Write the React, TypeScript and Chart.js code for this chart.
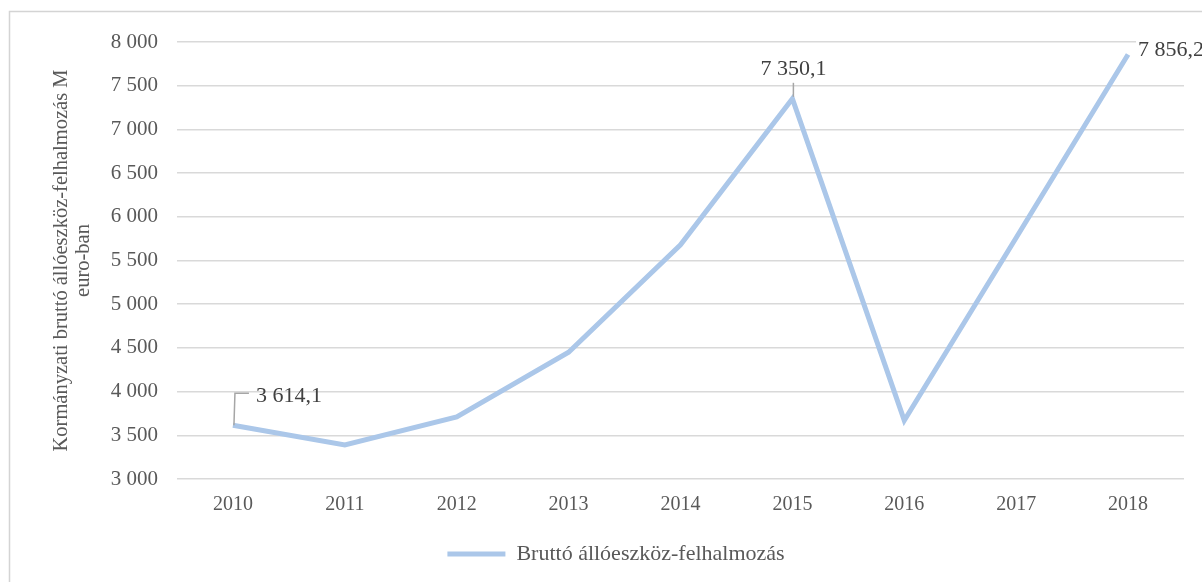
import React, { useEffect, useRef } from "react";
import { Chart, registerables } from "chart.js";

Chart.register(...registerables);

const categories = ["2010", "2011", "2012", "2013", "2014", "2015", "2016", "2017", "2018"];
const seriesName = "Bruttó állóeszköz-felhalmozás";
const values = [3614.1, 3390, 3710, 4450, 5680, 7350.1, 3670, 5760, 7856.2];
const labeledIndices = [0, 5, 8];
const yTitle = ["Kormányzati bruttó állóeszköz-felhalmozás M", "euro-ban"];
const yMin = 3000;
const yMax = 8000;
const yStep = 500;

const FONT = "'Liberation Serif', 'Times New Roman', serif";
const LINE_COLOR = "#abc7e9";

function fmt(v: number, decimals: number): string {
  const s = v.toFixed(decimals);
  const [intPart, dec] = s.split(".");
  const grouped = intPart.replace(/\B(?=(\d{3})+(?!\d))/g, " ");
  return dec ? grouped + "," + dec : grouped;
}

const framePlugin = {
  id: "frame",
  beforeDraw(chart: any) {
    const ctx = chart.ctx;
    ctx.save();
    ctx.fillStyle = "#ffffff";
    ctx.fillRect(0, 0, chart.width, chart.height);
    ctx.strokeStyle = "#d4d4d4";
    ctx.lineWidth = 1.5;
    ctx.strokeRect(9.5, 11.5, 1400, 1000);
    ctx.restore();
  },
};

const dataLabelPlugin = {
  id: "dataLabels",
  afterDatasetsDraw(chart: any) {
    const ctx = chart.ctx;
    const meta = chart.getDatasetMeta(0);
    ctx.save();
    ctx.font = `22px ${FONT}`;
    ctx.fillStyle = "#404040";
    ctx.strokeStyle = "#a6a6a6";
    ctx.lineWidth = 1.5;
    labeledIndices.forEach((i) => {
      const p = meta.data[i];
      if (!p) return;
      const text = fmt(values[i], 1);
      if (i === 0) {
        ctx.beginPath();
        ctx.moveTo(p.x + 1, p.y);
        ctx.lineTo(p.x + 2, p.y - 32);
        ctx.lineTo(p.x + 16, p.y - 32);
        ctx.stroke();
        ctx.textAlign = "left";
        ctx.textBaseline = "middle";
        ctx.fillText(text, p.x + 23, p.y - 29);
      } else if (i === 5) {
        ctx.beginPath();
        ctx.moveTo(p.x + 1, p.y - 2);
        ctx.lineTo(p.x + 1, p.y - 16);
        ctx.stroke();
        ctx.textAlign = "center";
        ctx.textBaseline = "middle";
        ctx.fillText(text, p.x + 1, p.y - 30);
      } else {
        const w = ctx.measureText(text).width;
        ctx.fillStyle = "#ffffff";
        ctx.fillRect(p.x + 8, p.y - 16, w + 6, 24);
        ctx.fillStyle = "#404040";
        ctx.textAlign = "left";
        ctx.textBaseline = "middle";
        ctx.fillText(text, p.x + 10, p.y - 4);
      }
    });
    ctx.restore();
  },
};

export default function App() {
  const canvasRef = useRef<HTMLCanvasElement | null>(null);

  useEffect(() => {
    const canvas = canvasRef.current;
    if (!canvas) return;
    const chart = new Chart(canvas, {
      type: "line",
      data: {
        labels: categories,
        datasets: [
          {
            label: seriesName,
            data: values,
            borderColor: LINE_COLOR,
            backgroundColor: LINE_COLOR,
            borderWidth: 5,
            pointRadius: 0,
            pointHoverRadius: 0,
            tension: 0,
            fill: false,
          },
        ],
      },
      options: {
        responsive: false,
        animation: false,
        events: [],
        layout: { padding: { left: 48, right: 18, top: 42, bottom: 7 } },
        scales: {
          x: {
            offset: true,
            grid: { display: false, drawTicks: false },
            border: { display: false },
            ticks: {
              color: "#595959",
              font: { family: FONT, size: 20 },
              padding: 14,
              maxRotation: 0,
            },
            afterFit(scale: any) {
              scale.height = 54;
            },
          },
          y: {
            min: yMin,
            max: yMax,
            border: { display: false },
            grid: { color: "#d9d9d9", lineWidth: 1.5, drawTicks: false },
            ticks: {
              stepSize: yStep,
              color: "#595959",
              font: { family: FONT, size: 21 },
              padding: 19,
              callback: (v: any) => fmt(Number(v), 0),
            },
            title: {
              display: true,
              text: yTitle,
              color: "#595959",
              font: { family: FONT, size: 20.5, lineHeight: 1.05 },
              padding: { top: 3, bottom: 0 },
            },
            afterFit(scale: any) {
              scale.width = 129;
            },
          },
        },
        plugins: {
          legend: {
            display: true,
            position: "bottom",
            labels: {
              color: "#595959",
              font: { family: FONT, size: 22 },
              boxWidth: 58,
              boxHeight: 5,
              padding: 10,
              generateLabels(chart: any) {
                const items = (Chart.defaults.plugins.legend.labels as any).generateLabels(chart);
                return items.map((it: any) => ({ ...it, lineWidth: 0, fillStyle: LINE_COLOR }));
              },
            },
          },
          tooltip: { enabled: false },
          title: { display: false },
        },
      },
      plugins: [framePlugin, dataLabelPlugin],
    });
    return () => chart.destroy();
  }, []);

  return (
    <div style={{ position: "fixed", left: 0, top: 0, width: 1202, height: 582, background: "#fff" }}>
      <canvas ref={canvasRef} width={1202} height={582} style={{ display: "block" }} />
    </div>
  );
}
